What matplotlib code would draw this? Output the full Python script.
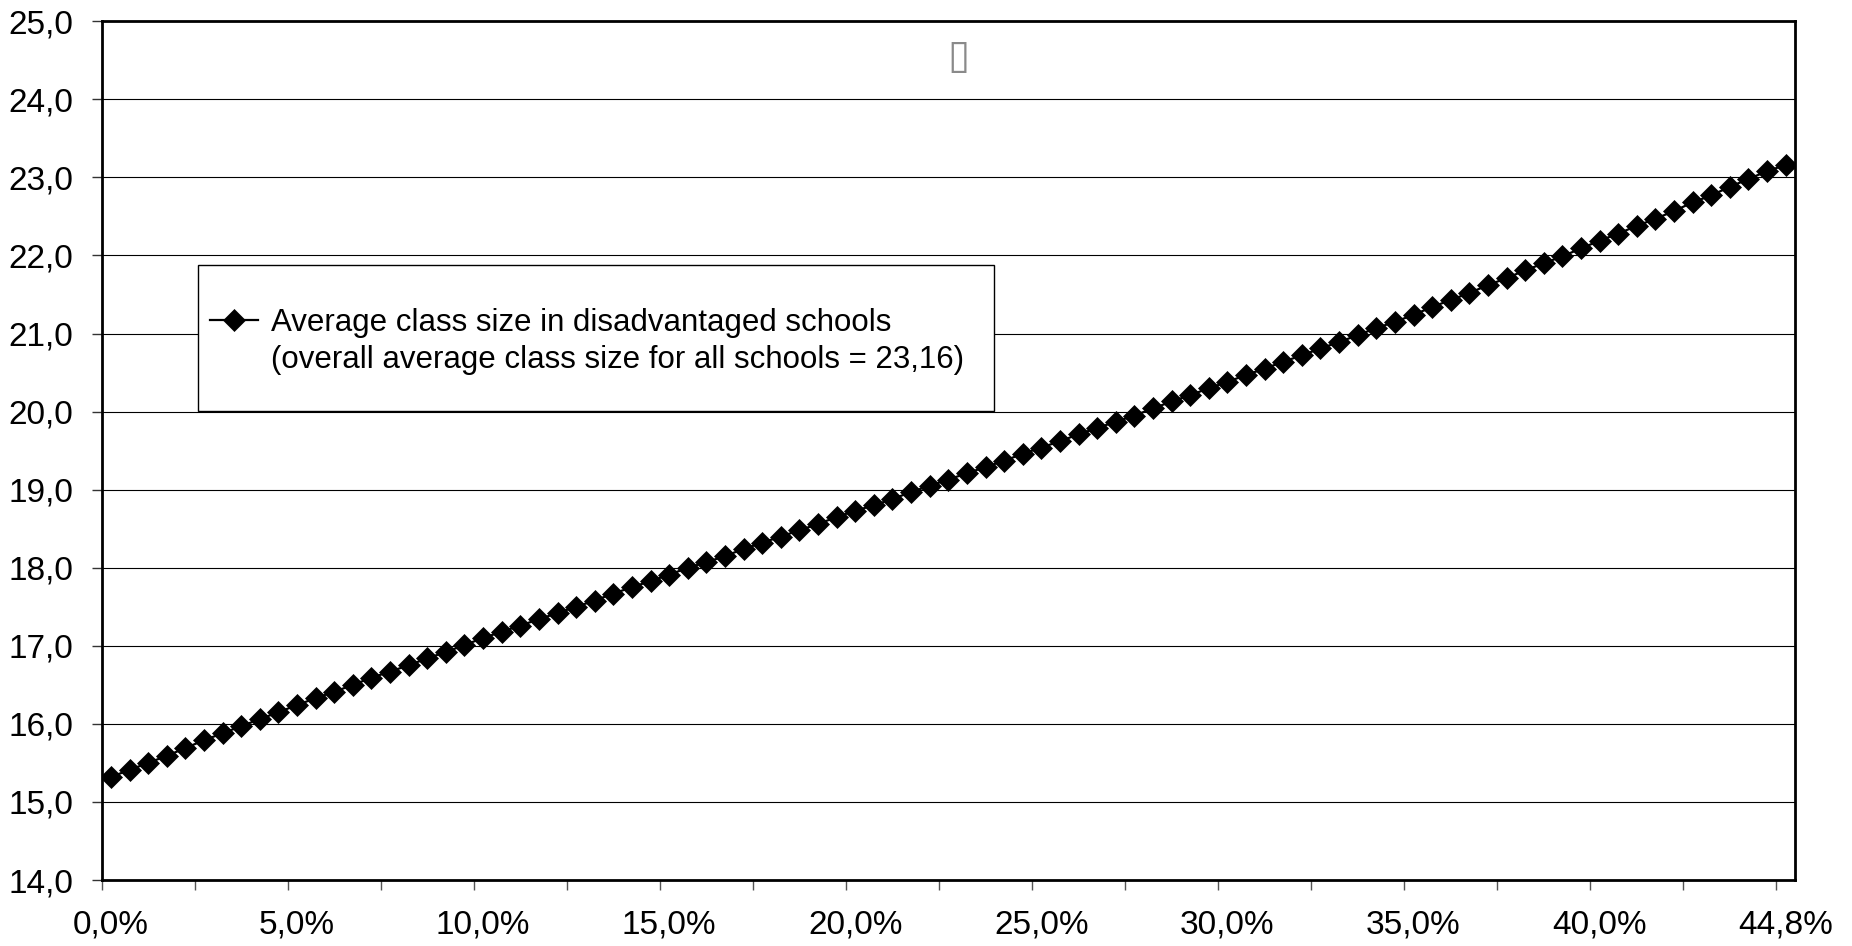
import matplotlib
matplotlib.use("Agg")
import matplotlib.pyplot as plt
from matplotlib.lines import Line2D
from matplotlib.patches import Rectangle

plt.rcParams['font.family'] = ['Liberation Sans', 'DejaVu Sans']

# share of disadvantaged pupils (%), one category per point
share = [0.0, 0.5, 1.0, 1.5, 2.0, 2.5, 3.0, 3.5, 4.0, 4.5,
         5.0, 5.5, 6.0, 6.5, 7.0, 7.5, 8.0, 8.5, 9.0, 9.5,
         10.0, 10.5, 11.0, 11.5, 12.0, 12.5, 13.0, 13.5, 14.0, 14.5,
         15.0, 15.5, 16.0, 16.5, 17.0, 17.5, 18.0, 18.5, 19.0, 19.5,
         20.0, 20.5, 21.0, 21.5, 22.0, 22.5, 23.0, 23.5, 24.0, 24.5,
         25.0, 25.5, 26.0, 26.5, 27.0, 27.5, 28.0, 28.5, 29.0, 29.5,
         30.0, 30.5, 31.0, 31.5, 32.0, 32.5, 33.0, 33.5, 34.0, 34.5,
         35.0, 35.5, 36.0, 36.5, 37.0, 37.5, 38.0, 38.5, 39.0, 39.5,
         40.0, 40.5, 41.0, 41.5, 42.0, 42.5, 43.0, 43.5, 44.0, 44.5,
         44.8]

# average class size in disadvantaged schools
class_size = [15.32, 15.41, 15.50, 15.59, 15.69, 15.79, 15.88, 15.97, 16.06, 16.15,
              16.24, 16.33, 16.41, 16.50, 16.59, 16.67, 16.75, 16.84, 16.92, 17.01,
              17.10, 17.18, 17.26, 17.34, 17.42, 17.50, 17.58, 17.67, 17.75, 17.83,
              17.91, 18.00, 18.07, 18.15, 18.24, 18.32, 18.40, 18.48, 18.56, 18.65,
              18.73, 18.80, 18.88, 18.97, 19.05, 19.13, 19.21, 19.29, 19.37, 19.46,
              19.54, 19.62, 19.71, 19.79, 19.87, 19.95, 20.04, 20.13, 20.21, 20.30,
              20.38, 20.47, 20.55, 20.64, 20.72, 20.81, 20.89, 20.98, 21.07, 21.15,
              21.24, 21.34, 21.43, 21.52, 21.62, 21.71, 21.81, 21.90, 21.99, 22.09,
              22.19, 22.28, 22.38, 22.47, 22.57, 22.68, 22.77, 22.88, 22.98, 23.08,
              23.16]

series_label = "Average class size in disadvantaged schools"
series_note = "(overall average class size for all schools = 23,16)"
y_ticks = [14, 15, 16, 17, 18, 19, 20, 21, 22, 23, 24, 25]

W, H = 1852, 946
fig = plt.figure(figsize=(W / 100, H / 100), dpi=100)
ax = fig.add_axes([101.6 / W, 1 - 880 / H, (1795 - 101.6) / W, (880 - 21.3) / H])

pos = list(range(len(share)))
line, = ax.plot(pos, class_size, color='black', lw=1.6, marker='D',
                markersize=11, markerfacecolor='black', markeredgecolor='black',
                markeredgewidth=0.5, zorder=3, label=series_label)

ax.set_xlim(-0.5, len(share) - 0.5)
ax.set_ylim(14, 25)

# y axis: gridlines every unit, comma decimals
ax.set_yticks(y_ticks)
ax.set_yticklabels([('%.1f' % v).replace('.', ',') for v in y_ticks])
for v in y_ticks[1:-1]:
    ax.axhline(v, color='black', lw=0.8, zorder=1)

# x axis: tick marks between categories every 5, labels every 10
ax.set_xticks([p - 0.5 for p in pos[::5]])
ax.set_xticklabels([])
ax.set_xticks(pos[::10], minor=True)
ax.set_xticklabels([('%.1f%%' % share[p]).replace('.', ',') for p in pos[::10]],
                   minor=True)
ax.tick_params(axis='x', which='major', length=7.2, width=1, color='#555555',
               direction='out')
ax.tick_params(axis='x', which='minor', length=0, pad=21, labelsize=24)
ax.tick_params(axis='y', length=7.2, width=1, color='#333333', pad=13,
               labelsize=24)

for s in ax.spines.values():
    s.set_linewidth(2)
    s.set_color('black')

# missing-glyph box drawn near the top
ax.text(958 / W, 1 - 57 / H, '\u25af', transform=fig.transFigure, ha='center',
        va='center', fontsize=29, color='#8a8a8a', family='DejaVu Sans')

# legend in a separate white box; the note sits on its own row without a handle
ax.add_patch(Rectangle((198 / W, 1 - 411 / H), 796 / W, 146 / H,
                       transform=fig.transFigure, facecolor='white',
                       edgecolor='black', lw=1, zorder=4, clip_on=False))
blank = Line2D([], [], color='none')
leg = ax.legend(handles=[line, blank], labels=[series_label, series_note],
                loc='upper left', bbox_to_anchor=(210 / W, 1 - 308 / H),
                bbox_transform=fig.transFigure, frameon=False, fontsize=22.5,
                numpoints=1, handlelength=1.55, handletextpad=0.4,
                labelspacing=0.23, borderpad=0, borderaxespad=0)
leg.set_zorder(5)

fig.savefig('out.png', dpi=100)
